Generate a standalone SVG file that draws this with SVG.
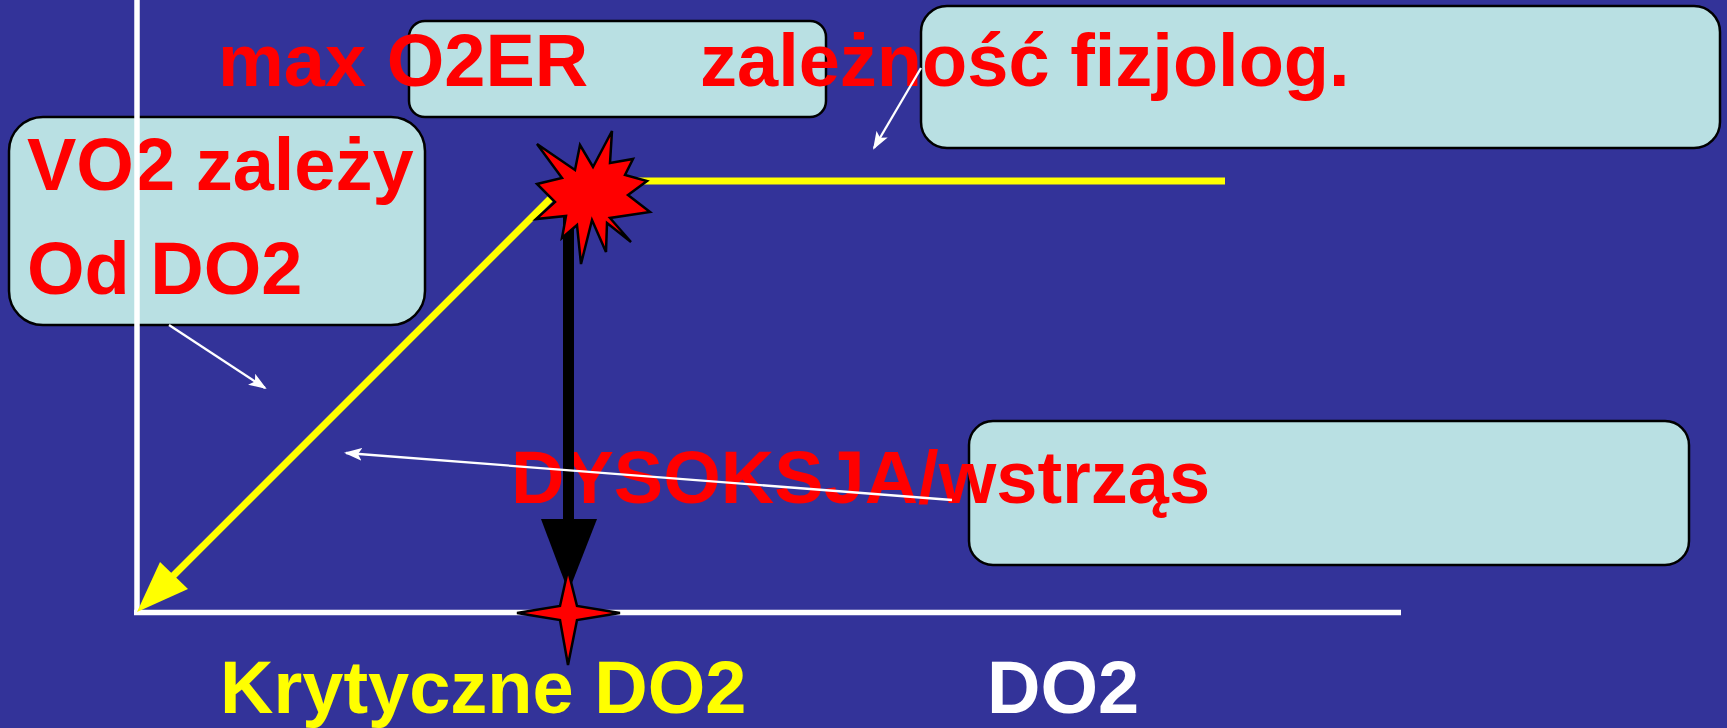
<svg xmlns="http://www.w3.org/2000/svg" width="1727" height="728" viewBox="0 0 1727 728">
  <defs>
    <style>
      .box { fill: #b9e0e3; stroke: #000; stroke-width: 2.5; }
      .lbl { font-family: "Liberation Sans", Arial, sans-serif; font-weight: bold; font-size: 74px; }
      .red { fill: #ff0000; }
      .axis { stroke: #fff; stroke-width: 5.5; fill: none; }
      .note { stroke: #fff; stroke-width: 2.3; fill: none; marker-end: url(#tip); }
      .burst { fill: #ff0000; stroke: #000; stroke-width: 2.5; stroke-linejoin: miter; }
    </style>
    <marker id="tip" markerUnits="userSpaceOnUse" markerWidth="18" markerHeight="13" viewBox="0 0 18 13" refX="16" refY="6.5" orient="auto">
      <path d="M0,0 L18,6.5 L0,13 L4,6.5 Z" fill="#fff"/>
    </marker>
  </defs>

  <rect width="1727" height="728" fill="#333399"/>

  <g id="node-vo2">
    <rect class="box" x="9" y="117" width="416" height="208" rx="34"/>
    <text class="lbl red" x="27" y="190">VO2 zależy</text>
    <text class="lbl red" x="27" y="294">Od DO2</text>
  </g>

  <g id="node-max-o2er">
    <rect class="box" x="409" y="21" width="417" height="96" rx="16"/>
    <text class="lbl red" x="218" y="86">max O2ER</text>
  </g>

  <g id="node-fizjolog">
    <rect class="box" x="921" y="6" width="799" height="142" rx="26"/>
    <text class="lbl red" x="700" y="86">zależność fizjolog.</text>
  </g>

  <g id="node-dysoksja">
    <rect class="box" x="969" y="421" width="720" height="144" rx="24"/>
    <text class="lbl red" x="511" y="503">DYSOKSJA/wstrząs</text>
  </g>

  <g id="axes">
    <line class="axis" x1="137" y1="0" x2="137" y2="615"/>
    <line class="axis" x1="134" y1="612.5" x2="1401" y2="612.5"/>
    <text class="lbl" fill="#ffff00" x="220" y="713">Krytyczne DO2</text>
    <text class="lbl" fill="#fff" x="987" y="713">DO2</text>
  </g>

  <g id="connectors">
    <!-- plateau -->
    <line x1="590" y1="181" x2="1225" y2="181" stroke="#ffff00" stroke-width="7"/>
    <!-- supply-dependent slope -->
    <line x1="556" y1="193" x2="168" y2="581" stroke="#ffff00" stroke-width="7"/>
    <polygon points="137,612 160,562 188,589" fill="#ffff00"/>
    <!-- drop to critical DO2 -->
    <line x1="568.5" y1="200" x2="568.5" y2="522" stroke="#000" stroke-width="11"/>
    <polygon points="541,519 597,519 568.5,592" fill="#000"/>
    <!-- callout pointers -->
    <line class="note" x1="169" y1="325" x2="265" y2="388"/>
    <line class="note" x1="921" y1="68" x2="874" y2="148"/>
    <line class="note" x1="952" y1="500" x2="346" y2="453"/>
  </g>

  <g id="marks">
    <polygon class="burst" points="537,144 575,170 580,145 593,167 612,131 610,163 633,159 625,175 647,181 628,195 650,212 610,218 631,242 607,223 606,252 592,220 581,264 577,225 562,238 566,216 536,219 555,202 537,184 562,178"/>
    <polygon class="burst" points="568,570 577,606 620,613 577,620 568,665 560,620 517,613 560,606"/>
  </g>
</svg>
